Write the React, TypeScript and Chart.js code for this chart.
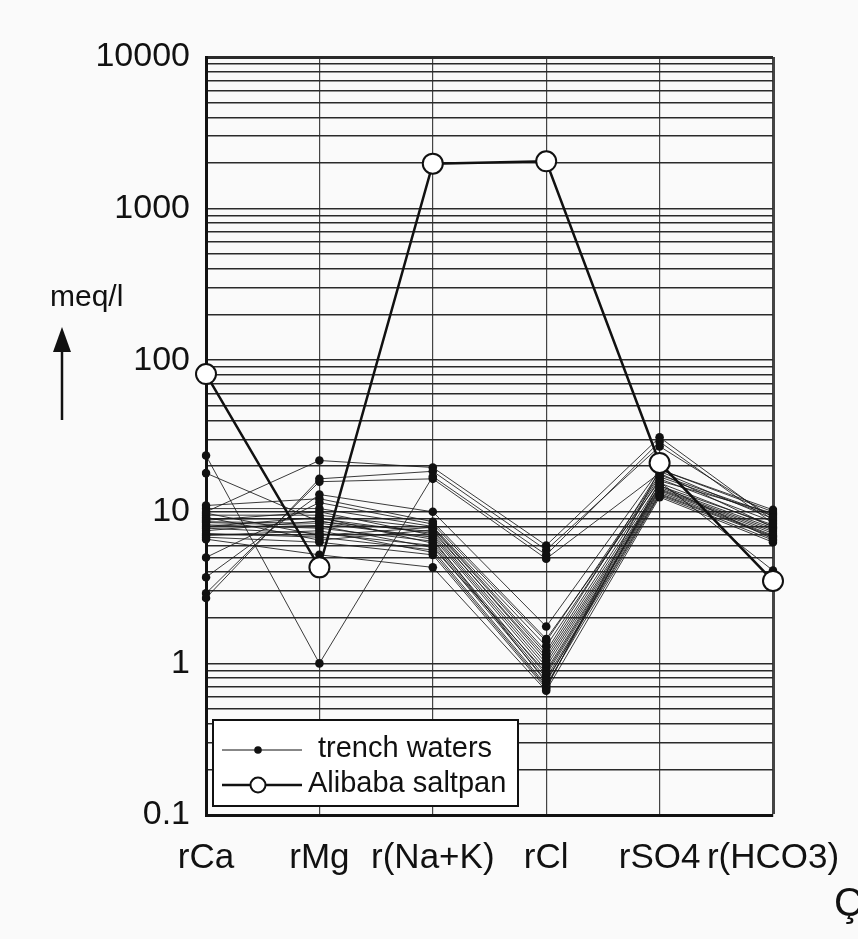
import React, { useEffect, useRef } from "react";
import { Chart, registerables } from "chart.js";

Chart.register(...registerables);

const categories = ["rCa", "rMg", "r(Na+K)", "rCl", "rSO4", "r(HCO3)"];

// Alibaba saltpan (meq/l), same order as categories
const alibabaSaltpan = [81, 4.3, 1980, 2050, 21, 3.5];

// trench waters samples (meq/l): rCa, rMg, r(Na+K), rCl, rSO4, r(HCO3)
const trenchWaters = [
  [23.5, 1.0, 17.1, 5.2, 29, 8.4],
  [18, 8.6, 7.4, 1.1, 15.5, 8.0],
  [2.7, 16.5, 18.5, 5.6, 27, 9.2],
  [2.9, 15.8, 16.5, 4.9, 18, 7.9],
  [3.7, 13, 10, 1.75, 19, 10.3],
  [10, 21.8, 19.6, 6.0, 31, 8.8],
  [6.6, 5.2, 4.3, 0.66, 12.5, 6.3],
  [11, 12.2, 8.6, 1.45, 16, 9.8],
  [5, 11.5, 8.3, 1.4, 17.5, 9.6],
  [10.5, 10.5, 8.0, 1.3, 17, 9.4],
  [9.8, 7.0, 7.9, 1.2, 18.5, 9.0],
  [9.5, 9.5, 7.8, 1.15, 16.5, 8.6],
  [9.2, 6.5, 7.6, 1.05, 14.8, 8.2],
  [9, 9, 7.2, 1.0, 14.5, 7.8],
  [8.8, 10, 7, 0.95, 14.2, 7.6],
  [8.6, 8.4, 6.8, 0.9, 14, 7.4],
  [8.5, 8.1, 5.8, 0.87, 13.8, 7.2],
  [8.2, 7.8, 6.4, 0.84, 13.5, 7.0],
  [8, 9.2, 6.2, 0.8, 13.2, 6.9],
  [7.8, 7.2, 6, 0.77, 13, 6.8],
  [7.5, 8.7, 6.6, 0.75, 15, 6.6],
  [7.2, 6.8, 5.6, 0.72, 12.8, 6.5],
  [7, 7.5, 5.4, 0.7, 15.8, 4.1],
  [6.8, 6.3, 5.2, 0.68, 19, 10],
];

const yTickValues = [
  0.1, 0.2, 0.3, 0.4, 0.5, 0.6, 0.7, 0.8, 0.9,
  1, 2, 3, 4, 5, 6, 7, 8, 9,
  10, 20, 30, 40, 50, 60, 70, 80, 90,
  100, 200, 300, 400, 500, 600, 700, 800, 900,
  1000, 2000, 3000, 4000, 5000, 6000, 7000, 8000, 9000,
  10000,
];
const yLabelValues = [0.1, 1, 10, 100, 1000, 10000];
const yLabelTexts = ["0.1", "1", "10", "100", "1000", "10000"];

const legendLabels = ["trench waters", "Alibaba saltpan"];
const axisTitle = "meq/l";

const FONT = '"Liberation Sans", Arial, sans-serif';
const INK = "#111";

const decorPlugin = {
  id: "decor",
  beforeDraw(chart: any) {
    const ctx = chart.ctx;
    ctx.save();
    ctx.fillStyle = "#fafafa";
    ctx.fillRect(0, 0, chart.width, chart.height);
    ctx.restore();
  },
  afterDraw(chart: any) {
    const ctx = chart.ctx;
    const area = chart.chartArea;
    ctx.save();
    // legend box
    const lx = area.left + 7;
    const ly = area.bottom - 95;
    const lw = 305;
    const lh = 86;
    ctx.fillStyle = "#ffffff";
    ctx.fillRect(lx, ly, lw, lh);
    ctx.strokeStyle = INK;
    ctx.lineWidth = 2;
    ctx.strokeRect(lx, ly, lw, lh);
    // entry 1
    const y1 = ly + 30;
    ctx.lineWidth = 1;
    ctx.beginPath();
    ctx.moveTo(lx + 9, y1);
    ctx.lineTo(lx + 89, y1);
    ctx.stroke();
    ctx.fillStyle = INK;
    ctx.beginPath();
    ctx.arc(lx + 45, y1, 3.8, 0, Math.PI * 2);
    ctx.fill();
    ctx.font = "29px " + FONT;
    ctx.textBaseline = "middle";
    ctx.textAlign = "left";
    ctx.fillText(legendLabels[0], lx + 105, y1 - 1);
    // entry 2
    const y2 = ly + 65;
    ctx.lineWidth = 2.5;
    ctx.beginPath();
    ctx.moveTo(lx + 9, y2);
    ctx.lineTo(lx + 89, y2);
    ctx.stroke();
    ctx.beginPath();
    ctx.arc(lx + 45, y2, 7.5, 0, Math.PI * 2);
    ctx.fillStyle = "#ffffff";
    ctx.fill();
    ctx.lineWidth = 2;
    ctx.stroke();
    ctx.fillStyle = INK;
    ctx.fillText(legendLabels[1], lx + 95, y2 - 1);

    // meq/l label and arrow
    ctx.font = "30px " + FONT;
    ctx.textAlign = "left";
    ctx.fillText(axisTitle, 50, 298);
    ctx.lineWidth = 2.5;
    ctx.beginPath();
    ctx.moveTo(62, 420);
    ctx.lineTo(62, 345);
    ctx.stroke();
    ctx.beginPath();
    ctx.moveTo(62, 327);
    ctx.lineTo(53, 352);
    ctx.lineTo(71, 352);
    ctx.closePath();
    ctx.fill();

    // cropped letter at page corner
    ctx.font = "40px " + FONT;
    ctx.fillText("Ç", 834, 905);
    ctx.restore();
  },
};

export default function App() {
  const canvasRef = useRef<HTMLCanvasElement | null>(null);

  useEffect(() => {
    if (!canvasRef.current) return;
    const datasets: any[] = [
      {
        label: legendLabels[1],
        data: alibabaSaltpan,
        borderColor: INK,
        borderWidth: 2.5,
        pointRadius: 10,
        pointBackgroundColor: "#ffffff",
        pointBorderColor: INK,
        pointBorderWidth: 2,
        order: 0,
      },
      ...trenchWaters.map((row) => ({
        label: legendLabels[0],
        data: row,
        borderColor: "rgba(25,25,25,0.85)",
        borderWidth: 1,
        pointRadius: 4.3,
        pointBackgroundColor: INK,
        pointBorderWidth: 0,
        order: 1,
      })),
    ];

    const chart = new Chart(canvasRef.current, {
      type: "line",
      data: { labels: categories, datasets },
      options: {
        animation: false,
        responsive: false,
        devicePixelRatio: 1,
        layout: { padding: { left: 0, top: 57, right: 85, bottom: 24 } },
        plugins: {
          legend: { display: false },
          tooltip: { enabled: false },
        },
        scales: {
          x: {
            type: "category",
            offset: false,
            grid: {
              color: "#444",
              lineWidth: (c: any) => (c.index === categories.length - 1 ? 3 : 1.2),
              drawTicks: false,
            },
            border: { color: INK, width: 3 },
            ticks: {
              font: { size: 35, family: FONT },
              color: INK,
              padding: 22,
              maxRotation: 0,
              autoSkip: false,
            },
            afterFit: (s: any) => {
              s.height = 100;
              s.paddingLeft = 0;
              s.paddingRight = 0;
            },
          },
          y: {
            type: "logarithmic",
            min: 0.1,
            max: 10000,
            afterBuildTicks: (s: any) => {
              s.ticks = yTickValues.map((v) => ({ value: v }));
            },
            grid: {
              color: "#2a2a2a",
              lineWidth: (c: any) => (c.tick && c.tick.value === 10000 ? 3 : 1.6),
              drawTicks: false,
            },
            border: { color: INK, width: 3 },
            ticks: {
              autoSkip: false,
              font: { size: 34, family: FONT },
              color: INK,
              padding: 16,
              callback: (v: any) => {
                const i = yLabelValues.findIndex((x) => Math.abs(x - v) / x < 1e-6);
                return i >= 0 ? yLabelTexts[i] : "";
              },
            },
            afterFit: (s: any) => {
              s.width = 206;
              s.paddingTop = 0;
              s.paddingBottom = 0;
            },
          },
        },
      },
      plugins: [decorPlugin],
    } as any);

    return () => chart.destroy();
  }, []);

  return (
    <div style={{ position: "fixed", left: 0, top: 0, width: 858, height: 939, background: "#fafafa" }}>
      <canvas ref={canvasRef} width={858} height={939} style={{ width: 858, height: 939, display: "block" }} />
    </div>
  );
}
